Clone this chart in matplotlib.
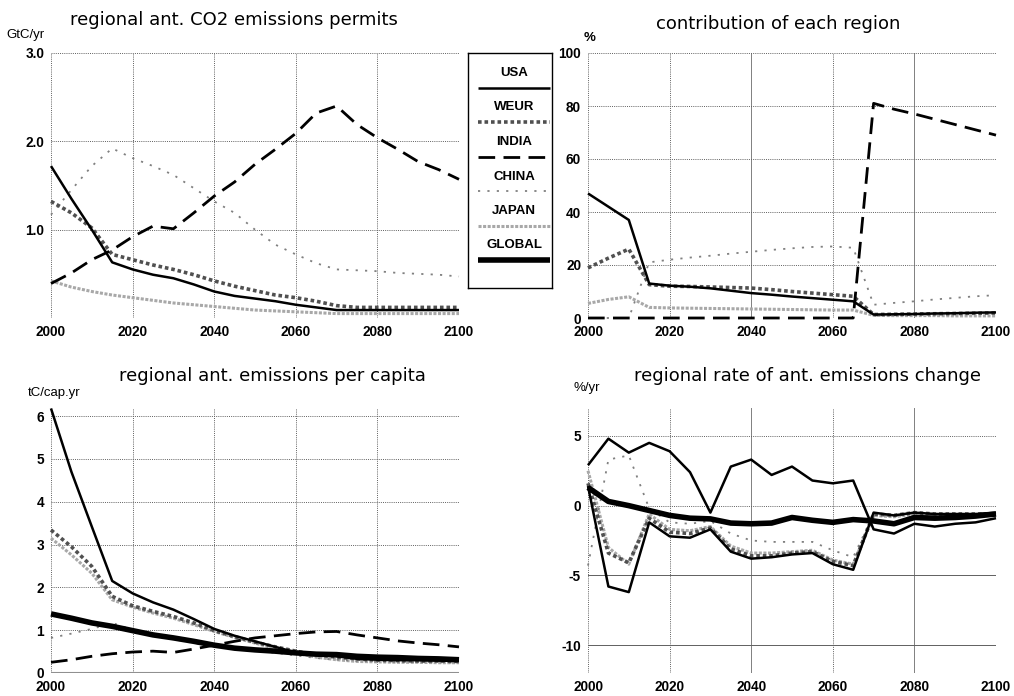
import numpy as np
import matplotlib
matplotlib.use("Agg")
import matplotlib.pyplot as plt

# model years, 5-year steps
years = np.arange(2000, 2101, 5)
regions = ["USA", "WEUR", "INDIA", "CHINA", "JAPAN", "GLOBAL"]

# regional anthropogenic CO2 emission permits (GtC/yr)
usa_permits = [1.72, 1.35, 1.00, 0.63, 0.55, 0.49, 0.45, 0.38, 0.30, 0.25, 0.22,
               0.19, 0.15, 0.12, 0.09, 0.09, 0.09, 0.09, 0.09, 0.09, 0.09]
weur_permits = [1.32, 1.19, 1.02, 0.72, 0.66, 0.60, 0.55, 0.49, 0.42, 0.36, 0.31,
                0.26, 0.23, 0.19, 0.14, 0.12, 0.12, 0.12, 0.12, 0.12, 0.12]
india_permits = [0.39, 0.51, 0.66, 0.77, 0.92, 1.04, 1.01, 1.19, 1.38, 1.54, 1.74,
                 1.91, 2.09, 2.32, 2.40, 2.19, 2.04, 1.91, 1.77, 1.68, 1.57]
china_permits = [1.17, 1.45, 1.72, 1.92, 1.81, 1.72, 1.62, 1.47, 1.32, 1.19, 1.00,
                 0.83, 0.72, 0.62, 0.55, 0.54, 0.53, 0.51, 0.50, 0.49, 0.47]
japan_permits = [0.42, 0.35, 0.30, 0.26, 0.23, 0.20, 0.17, 0.15, 0.13, 0.11, 0.09,
                 0.08, 0.07, 0.06, 0.05, 0.05, 0.05, 0.05, 0.05, 0.05, 0.05]

# contribution of each region (%)
usa_share = [47, 42, 37, 13, 12.2, 11.8, 11.2, 10.3, 9.4, 8.8, 8.1,
             7.5, 6.9, 6.3, 1.3, 1.4, 1.5, 1.7, 1.8, 2.0, 2.1]
weur_share = [18.9, 22.6, 26, 12.6, 12, 11.9, 11.7, 11.5, 11.3, 10.7, 10,
              9.4, 8.8, 8.2, 1.3, 1.4, 1.5, 1.6, 1.7, 1.8, 1.9]
india_share = [0, 0, 0, 0, 0, 0, 0, 0, 0, 0, 0,
               0, 0, 0, 81, 78.8, 77, 75, 73, 71, 69]
china_share = [0, 0, 0, 21, 22, 22.8, 23.5, 24.3, 25, 25.7, 26.3,
               26.8, 27, 26.5, 5, 5.7, 6.3, 7, 7.6, 8.2, 8.6]
japan_share = [5.5, 7, 8, 4, 3.8, 3.7, 3.6, 3.5, 3.4, 3.3, 3.2,
               3.1, 3.0, 3.0, 1, 0.9, 0.9, 0.9, 0.8, 0.8, 0.8]

# regional anthropogenic emissions per capita (tC/cap.yr)
usa_percap = [6.18, 4.70, 3.42, 2.15, 1.86, 1.65, 1.48, 1.26, 1.03, 0.87, 0.74,
              0.61, 0.48, 0.43, 0.39, 0.33, 0.31, 0.30, 0.30, 0.29, 0.29]
weur_percap = [3.34, 2.95, 2.49, 1.79, 1.57, 1.44, 1.32, 1.17, 0.99, 0.85, 0.72,
               0.61, 0.51, 0.43, 0.37, 0.33, 0.30, 0.29, 0.28, 0.28, 0.27]
india_percap = [0.25, 0.31, 0.39, 0.45, 0.49, 0.51, 0.48, 0.56, 0.65, 0.74, 0.82,
                0.87, 0.92, 0.96, 0.97, 0.89, 0.82, 0.75, 0.70, 0.66, 0.61]
china_percap = [0.82, 0.92, 1.03, 1.17, 1.01, 0.89, 0.79, 0.70, 0.62, 0.56, 0.51,
                0.47, 0.41, 0.35, 0.31, 0.28, 0.27, 0.26, 0.25, 0.25, 0.24]
japan_percap = [3.15, 2.76, 2.33, 1.71, 1.54, 1.40, 1.28, 1.13, 0.97, 0.83, 0.70,
                0.57, 0.47, 0.37, 0.31, 0.27, 0.26, 0.25, 0.25, 0.24, 0.24]
global_percap = [1.38, 1.28, 1.17, 1.09, 0.99, 0.89, 0.82, 0.74, 0.65, 0.58, 0.54,
                 0.51, 0.47, 0.44, 0.43, 0.39, 0.37, 0.36, 0.34, 0.33, 0.31]

# regional rate of anthropogenic emissions change (%/yr)
usa_rate = [1.4, -5.8, -6.2, -1.2, -2.2, -2.3, -1.7, -3.3, -3.8, -3.7, -3.5,
            -3.4, -4.2, -4.6, -0.5, -0.7, -0.5, -0.6, -0.6, -0.6, -0.5]
weur_rate = [1.6, -3.4, -4.1, -0.9, -1.9, -2.0, -1.6, -3.1, -3.6, -3.6, -3.4,
             -3.3, -4.0, -4.3, -0.6, -0.7, -0.5, -0.6, -0.6, -0.6, -0.6]
india_rate = [2.9, 4.8, 3.8, 4.5, 3.9, 2.4, -0.5, 2.8, 3.3, 2.2, 2.8,
              1.8, 1.6, 1.8, -1.7, -2.0, -1.3, -1.5, -1.3, -1.2, -0.9]
china_rate = [-4.3, 3.3, 3.6, -0.2, -1.2, -1.3, -1.1, -2.0, -2.5, -2.6, -2.6,
              -2.6, -3.2, -3.7, -0.6, -0.7, -0.5, -0.6, -0.6, -0.6, -0.6]
japan_rate = [2.5, -3.0, -4.2, -0.6, -1.7, -1.8, -1.5, -2.9, -3.4, -3.4, -3.3,
              -3.2, -3.9, -4.2, -0.7, -0.8, -0.6, -0.7, -0.7, -0.7, -0.7]
global_rate = [1.3, 0.3, 0.0, -0.35, -0.7, -0.9, -0.95, -1.25, -1.3, -1.25, -0.85,
               -1.05, -1.2, -1.0, -1.1, -1.3, -0.85, -0.9, -0.85, -0.75, -0.6]

STYLES = {
    "USA": dict(color="black", lw=1.8, ls="-"),
    "WEUR": dict(color="#505050", lw=2.6, ls=(0, (1, 0.8))),
    "INDIA": dict(color="black", lw=2.0, ls=(0, (6, 3))),
    "CHINA": dict(color="#808080", lw=1.3, ls=(0, (1.2, 4))),
    "JAPAN": dict(color="#a8a8a8", lw=2.2, ls=(0, (1, 0.5))),
    "GLOBAL": dict(color="black", lw=4.0, ls="-"),
}

TICKFONT = dict(family="Liberation Sans", weight="bold", size=9.8)
TITLEFONT = dict(family="DejaVu Sans", size=13)

W, H = 1014, 696
fig = plt.figure(figsize=(W / 100, H / 100), dpi=100)


def panel(left, top, right, bottom, ylim, yticks, yticklabels):
    ax = fig.add_axes([left / W, 1 - bottom / H, (right - left) / W, (bottom - top) / H])
    ax.set_xlim(2000, 2100)
    ax.set_ylim(*ylim)
    ax.set_xticks(range(2000, 2101, 20))
    ax.set_yticks(yticks)
    ax.set_yticklabels(yticklabels)
    for lab in ax.get_xticklabels() + ax.get_yticklabels():
        lab.set_fontproperties(matplotlib.font_manager.FontProperties(**TICKFONT))
    ax.tick_params(length=0, pad=5)
    for s in ax.spines.values():
        s.set_visible(False)
    ax.grid(True, color="#606060", lw=0.7, ls=(0, (1, 1.2)))
    return ax


def draw(ax, series, override=None):
    for name, vals in series.items():
        st = dict(STYLES[name])
        if override and name in override:
            st.update(override[name])
        ax.plot(years, vals, color=st["color"], lw=st["lw"], ls=st["ls"],
                solid_capstyle="butt", clip_on=False)


# top left: permits
ax1 = panel(51, 53, 459, 318, (0, 3.0), [1, 2, 3], ["1.0", "2.0", "3.0"])
draw(ax1, {"JAPAN": japan_permits, "CHINA": china_permits, "WEUR": weur_permits,
           "USA": usa_permits, "INDIA": india_permits})
fig.text(234 / W, 1 - 20 / H, "regional ant. CO2 emissions permits", ha="center", va="center", **TITLEFONT)
fig.text(6 / W, 1 - 35 / H, "GtC/yr", ha="left", va="center", family="Liberation Sans", size=9.5)

# top right: contribution
ax2 = panel(588, 53, 996, 318, (0, 100), range(0, 101, 20), [str(v) for v in range(0, 101, 20)])
draw(ax2, {"JAPAN": japan_share, "CHINA": china_share, "WEUR": weur_share,
           "USA": usa_share, "INDIA": india_share})
fig.text(778 / W, 1 - 24 / H, "contribution of each region", ha="center", va="center", **TITLEFONT)
fig.text(584 / W, 1 - 38 / H, "%", ha="left", va="center", family="Liberation Sans", weight="bold", size=9.5)

# bottom left: per capita
ax3 = panel(51, 408, 459, 673, (0, 6.19), range(0, 7), [str(v) for v in range(0, 7)])
draw(ax3, {"JAPAN": japan_percap, "CHINA": china_percap, "WEUR": weur_percap,
           "INDIA": india_percap, "GLOBAL": global_percap, "USA": usa_percap})
ax3.axhline(0, color="#909090", lw=1.5)
fig.text(272 / W, 1 - 376 / H, "regional ant. emissions per capita", ha="center", va="center", **TITLEFONT)
fig.text(28 / W, 1 - 393 / H, "tC/cap.yr", ha="left", va="center", family="Liberation Sans", size=9.5)

# bottom right: rate of change
ax4 = panel(588, 408, 996, 673, (-12, 7), [-10, -5, 0, 5], ["-10", "-5", "0", "5"])
draw(ax4, {"JAPAN": japan_rate, "CHINA": china_rate, "WEUR": weur_rate,
           "USA": usa_rate, "INDIA": india_rate, "GLOBAL": global_rate},
     override={"INDIA": dict(ls="-", lw=1.8)})
fig.text(808 / W, 1 - 376 / H, "regional rate of ant. emissions change", ha="center", va="center", **TITLEFONT)
fig.text(573 / W, 1 - 388 / H, "%/yr", ha="left", va="center", family="Liberation Sans", size=9.5)

# solid grid lines on the right-hand panels
for ax in (ax2, ax4):
    for x, gl in zip(ax.get_xticks(), ax.xaxis.get_gridlines()):
        if x in (2040, 2080):
            gl.set_linestyle("-")
            gl.set_color("#808080")
for y, gl in zip(ax4.get_yticks(), ax4.yaxis.get_gridlines()):
    if y in (-5, -10):
        gl.set_linestyle("-")
        gl.set_color("#606060")

# legend box with labels above line samples
lax = fig.add_axes([468 / W, 1 - 288 / H, 84 / W, 235 / H])
lax.set_xlim(0, 1)
lax.set_ylim(0, 1)
lax.set_xticks([])
lax.set_yticks([])
for s in lax.spines.values():
    s.set_linewidth(1.0)
for i, name in enumerate(regions):
    ty = 1 - (20 + i * 34.5) / 235
    ly = ty - 15 / 235
    lax.text(0.55, ty, name, ha="center", va="center",
             family="Liberation Sans", weight="bold", size=9.5)
    st = STYLES[name]
    lax.plot([0.12, 0.98], [ly, ly], color=st["color"], lw=st["lw"], ls=st["ls"],
             solid_capstyle="butt")

fig.savefig("out.png", dpi=100)
